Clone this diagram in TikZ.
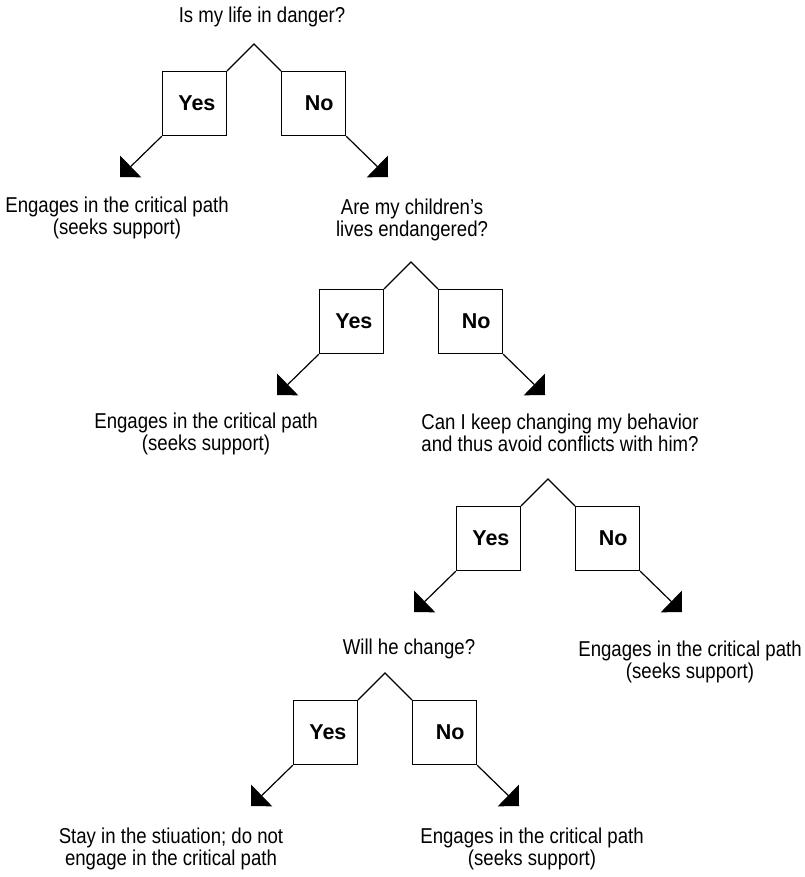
\documentclass[tikz,border=0pt]{standalone}
\usepackage{fontspec}
\setmainfont{Liberation Sans}[FakeStretch=0.865]
\newfontfamily\ynfont{Liberation Sans}
\usetikzlibrary{arrows.meta}
\begin{document}
\begin{tikzpicture}[x=1pt,y=-1pt,
  ln/.style={line width=1.2pt, black},
  ansbox/.style={draw, line width=1.2pt, minimum size=64pt, inner sep=0pt,
    font=\ynfont\bfseries\fontsize{21.5pt}{24pt}\selectfont},
  qtext/.style={anchor=north, inner sep=0pt, align=center,
    font=\fontsize{21.5pt}{22pt}\selectfont},
  arrowtip/.style={-{Triangle[length=15pt, width=30pt]}}]
\useasboundingbox (0,0) rectangle (804,877);

\foreach \i/\ax/\ay in {1/254/44, 2/411/262, 3/548/479, 4/385/673}{
  \coordinate (a\i) at (\ax,\ay);
  \node[ansbox, anchor=north east] (y\i) at ([shift={(-27,27)}]a\i) {\hspace*{5pt}Yes};
  \node[ansbox, anchor=north west] (n\i) at ([shift={(27,27)}]a\i) {\hspace*{11pt}No};
  \coordinate (ty\i) at ([shift={(-134,133)}]a\i);
  \coordinate (tn\i) at ([shift={(134,133)}]a\i);
  \draw[ln] (y\i.north east) -- (a\i) -- (n\i.north west);
  \draw[ln, arrowtip] (y\i.south west) -- (ty\i);
  \draw[ln, arrowtip] (n\i.south east) -- (tn\i);
}

\node[qtext] (q1) at (262,7) {Is my life in danger?};
\node[qtext] (r1) at (117,197) {Engages in the critical path\\(seeks support)};
\node[qtext] (q2) at (412,199) {Are my children’s\\lives endangered?};
\node[qtext] (r2) at (206,413) {Engages in the critical path\\(seeks support)};
\node[qtext] (q3) at (560,414) {Can I keep changing my behavior\\and thus avoid conflicts with him?};
\node[qtext] (q4) at (409,639) {Will he change?};
\node[qtext] (r3) at (690,641) {Engages in the critical path\\(seeks support)};
\node[qtext] (s4) at (171,828) {Stay in the stiuation; do not\\engage in the critical path};
\node[qtext] (r4) at (532,828) {Engages in the critical path\\(seeks support)};
\end{tikzpicture}
\end{document}
